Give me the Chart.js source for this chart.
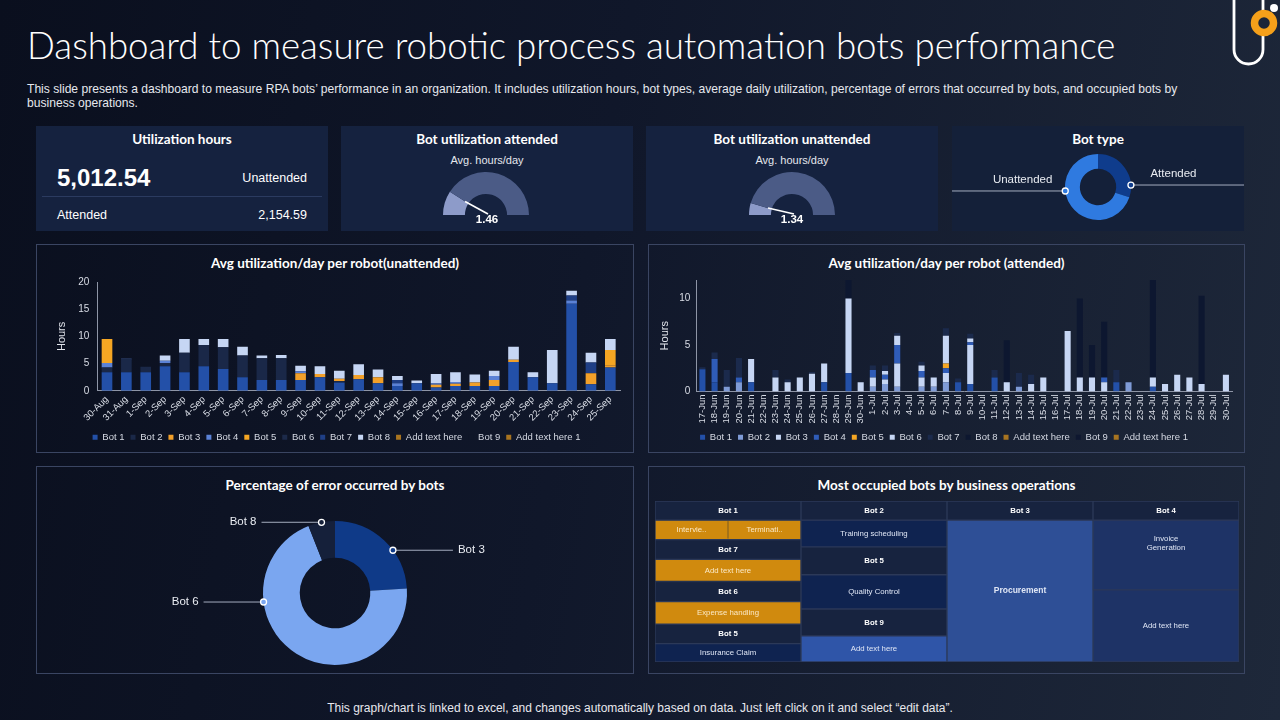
<!DOCTYPE html>
<html>
<head>
<meta charset="utf-8">
<title>RPA bots dashboard</title>
<script src="https://cdn.jsdelivr.net/npm/chart.js@4.4.1/dist/chart.umd.min.js"></script>
<style>
  body {
    margin: 0; width: 1280px; height: 720px; overflow: hidden; position: relative;
    background: linear-gradient(100deg, #0a0f1e 0%, #10172a 45%, #1e283a 100%);
    font-family: 'Liberation Sans', Arial, sans-serif; color: #fff;
  }
  .abs { position: absolute; }
  h1 {
    position: absolute; left: 27px; top: 23px; margin: 0;
    font: 300 36.7px Lato, sans-serif; color: #fff; white-space: nowrap;
  }
  .sub { left: 27px; top: 82px; width: 1160px; font-size: 12.1px; line-height: 14px; color: #e6e8ee; }
  .card { position: absolute; top: 126px; height: 105px; width: 292px; background: #15223f; }
  .ctitle, .ptitle {
    position: absolute; left: 0; right: 0; text-align: center;
    font: 700 13.5px Lato, sans-serif; line-height: 17px; white-space: nowrap;
  }
  .ctitle { top: 5px; }
  .ptitle { top: 10px; }
  .small { position: absolute; left: 0; right: 0; text-align: center; font-size: 11px; color: #e4e7ee; top: 27px; line-height: 14px; }
  .panel { position: absolute; border: 1px solid #3a4562; box-sizing: border-box; }
  canvas { position: absolute; }
  .gval { position: absolute; width: 60px; text-align: center; font-weight: 700; font-size: 11.5px; line-height: 14px; top: 212px; }
  .footer { left: 0; width: 1280px; top: 701px; text-align: center; font-size: 12px; color: #e8e8ee; }
</style>
</head>
<body>
<h1>Dashboard to measure robotic process automation bots performance</h1>
<div class="abs sub">This slide presents a dashboard to measure RPA bots’ performance in an organization. It includes utilization hours, bot types, average daily utilization, percentage of errors that occurred by bots, and occupied bots by business operations.</div>

<svg class="abs" style="left:1228px; top:0" width="52" height="68" viewBox="0 0 52 68">
  <path d="M6 0 V49.5 A14.5 14.5 0 0 0 35 49.5 V0" fill="none" stroke="#fff" stroke-width="2.8"/>
  <circle cx="36" cy="23" r="9.5" fill="#1b2538" stroke="#f5a01a" stroke-width="7.5"/>
  <circle cx="46" cy="8" r="4" fill="#fff"/>
</svg>

<div class="card" style="left:36px">
  <div class="ctitle">Utilization hours</div>
  <div class="abs" id="uTotal" style="left:21px; top:38px; font-weight:700; font-size:24px; line-height:28px"></div>
  <div class="abs" style="right:21px; top:44px; font-size:12.5px; line-height:16px">Unattended</div>
  <div class="abs" style="left:6px; right:6px; top:70px; height:1px; background:#2b3b60"></div>
  <div class="abs" style="left:21px; top:81px; font-size:12.5px; line-height:16px">Attended</div>
  <div class="abs" id="aTotal" style="right:21px; top:81px; font-size:12.5px; line-height:16px"></div>
</div>
<div class="card" style="left:341px">
  <div class="ctitle">Bot utilization attended</div>
  <div class="small">Avg. hours/day</div>
</div>
<div class="card" style="left:646px">
  <div class="ctitle">Bot utilization unattended</div>
  <div class="small">Avg. hours/day</div>
</div>
<div class="card" style="left:952px; background:#142039">
  <div class="ctitle">Bot type</div>
</div>
<canvas id="gaugeA" style="left:441px; top:170px" width="90" height="46"></canvas>
<div class="gval" id="gA" style="left:457px"></div>
<canvas id="gaugeU" style="left:747px; top:170px" width="90" height="46"></canvas>
<div class="gval" id="gU" style="left:762px"></div>
<canvas id="botType" style="left:952px; top:148px" width="292" height="78"></canvas>

<div class="panel" style="left:36px; top:244px; width:598px; height:209px">
  <div class="ptitle">Avg utilization/day per robot(unattended)</div>
</div>
<div class="panel" style="left:648px; top:244px; width:597px; height:209px">
  <div class="ptitle">Avg utilization/day per robot (attended)</div>
</div>
<div class="panel" style="left:36px; top:466px; width:598px; height:208px">
  <div class="ptitle">Percentage of error occurred by bots</div>
</div>
<div class="panel" style="left:648px; top:466px; width:597px; height:208px">
  <div class="ptitle">Most occupied bots by business operations</div>
</div>
<canvas id="unattended" style="left:40px; top:268px" width="590" height="184"></canvas>
<canvas id="attended" style="left:652px; top:268px" width="590" height="184"></canvas>
<canvas id="errors" style="left:37px; top:507px" width="596" height="172"></canvas>
<canvas id="tree" style="left:655px; top:501px" width="584" height="161"></canvas>

<div class="abs footer">This graph/chart is linked to excel, and changes automatically based on data. Just left click on it and select “edit data”.</div>

<script>
// ---- data ----
const hoursUnattended = 5012.54;
const hoursAttended = 2154.59;

const gaugeAttended = 1.46;
const gaugeAttendedMax = 8;
const gaugeUnattended = 1.34;
const gaugeUnattendedMax = 15;

const botTypeLabels = ['Attended', 'Unattended'];
const botTypeValues = [hoursAttended, hoursUnattended];

const seriesNames = ['Bot 1', 'Bot 2', 'Bot 3', 'Bot 4', 'Bot 5', 'Bot 6', 'Bot 7', 'Bot 8', 'Add text here', 'Bot 9', 'Add text here 1'];

const unattendedDays = ['30-Aug', '31-Aug', '1-Sep', '2-Sep', '3-Sep', '4-Sep', '5-Sep', '6-Sep', '7-Sep', '8-Sep',
  '9-Sep', '10-Sep', '11-Sep', '12-Sep', '13-Sep', '14-Sep', '15-Sep', '16-Sep', '17-Sep', '18-Sep',
  '19-Sep', '20-Sep', '21-Sep', '22-Sep', '23-Sep', '24-Sep', '25-Sep'];
const uBot1 = [3.4, 3.4, 3.4, 4.5, 3.4, 4.5, 4.0, 2.5, 2.0, 2.0, 2.0, 2.5, 1.5, 2.1, 1.4, 0.9, 1.4, 0.6, 0.9, 0.9, 0.9, 5.3, 2.5, 1.4, 16.0, 1.2, 4.3];
const uBot2 = [0.9, 2.4, 1.0, 0.6, 3.6, 3.9, 4.0, 4.0, 4.0, 4.0, 0, 0, 0.3, 0, 0, 0, 0, 0, 0, 0, 0, 0, 0, 0, 0, 0, 0];
const uBot3 = [0, 0, 0, 0, 0, 0, 0, 0, 0, 0, 1.2, 0.6, 0.4, 0.8, 1.1, 0, 0, 0.5, 0.4, 0.6, 1.1, 0.4, 0, 0, 0, 2.0, 0.4];
const uBot4 = [0.8, 0.1, 0, 0.4, 0, 0, 0, 0, 0, 0, 0.4, 0, 0, 0, 0, 0.5, 0, 0.3, 0.3, 0, 0.7, 0, 0, 0, 0.6, 0, 0];
const uBot5 = [4.4, 0, 0, 0, 0, 0, 0, 0, 0, 0, 0, 0, 0, 0, 0, 0, 0, 0, 0, 0, 0, 0, 0, 0, 0, 0, 2.8];
const uBot6 = [0, 0, 0, 0, 0, 0, 0, 0, 0, 0, 0, 0, 0, 0, 0, 0, 0, 0, 0, 0, 0, 0, 0, 0, 0, 0, 0];
const uBot7 = [0, 0, 0, 0, 0, 0, 0, 0, 0, 0, 0, 0, 0, 0, 0, 0.6, 0, 0, 0, 0, 0, 0, 0, 0, 0.9, 2.0, 0];
const uBot8 = [0, 0, 0, 1.0, 2.5, 1.1, 1.5, 1.6, 0.5, 0.6, 1.0, 1.4, 1.5, 2.0, 1.4, 0.7, 0.5, 1.7, 1.8, 1.5, 1.0, 2.4, 0.9, 6.1, 0.9, 1.8, 2.0];
const uText = [0, 0, 0, 0, 0, 0, 0, 0, 0, 0, 0, 0, 0, 0, 0, 0, 0, 0, 0, 0, 0, 0, 0, 0, 0, 0, 0];
const uBot9 = [0, 0, 0, 0, 0, 0, 0, 0, 0, 0, 0, 0, 0, 0, 0, 0, 0, 0, 0, 0, 0, 0, 0, 0, 0, 0, 0];
const uText1 = [0, 0, 0, 0, 0, 0, 0, 0, 0, 0, 0, 0, 0, 0, 0, 0, 0, 0, 0, 0, 0, 0, 0, 0, 0, 0, 0];

const attendedDays = ['17-Jun', '18-Jun', '19-Jun', '20-Jun', '21-Jun', '22-Jun', '23-Jun', '24-Jun', '25-Jun', '26-Jun',
  '27-Jun', '28-Jun', '29-Jun', '30-Jun', '1-Jul', '2-Jul', '3-Jul', '4-Jul', '5-Jul', '6-Jul', '7-Jul', '8-Jul',
  '9-Jul', '10-Jul', '11-Jul', '12-Jul', '13-Jul', '14-Jul', '15-Jul', '16-Jul', '17-Jul', '18-Jul', '19-Jul',
  '20-Jul', '21-Jul', '22-Jul', '23-Jul', '24-Jul', '25-Jul', '26-Jul', '27-Jul', '28-Jul', '29-Jul', '30-Jul'];
const aBot1 = [2.4, 1.0, 0, 0, 1.0, 0, 0, 0, 0, 0, 1.0, 0, 2.0, 0,
  0, 0, 0, 0, 0, 0, 0, 1.0, 0.8, 0, 1.5, 0, 0, 0, 0, 0, 0, 0, 0, 0, 1.0, 0, 0, 0.5, 0, 0, 0, 0, 0, 0];
const aBot2 = [0, 0, 0.5, 1.0, 0, 0, 0, 0, 0, 0, 0, 0, 0, 0,
  0.5, 0.8, 0.5, 0, 0.5, 0.5, 1.0, 0, 0, 0, 0, 0, 0.5, 0, 0, 0, 0, 0, 0, 0, 0, 1.0, 0, 0, 0, 0, 0, 0, 0, 0];
const aBot3 = [0, 0, 0, 0, 2.5, 0, 1.5, 1.0, 1.5, 1.9, 2.0, 0, 8.0, 1.0,
  1.0, 0.5, 2.5, 0, 1.0, 1.0, 1.0, 0, 4.2, 0, 0, 1.0, 0, 0.8, 1.5, 0, 6.5, 1.5, 1.5, 1.0, 0, 0, 0, 1.0, 0.8, 1.8, 1.5, 0.8, 0, 1.8];
const aBot4 = [0, 2.5, 0, 0.5, 0, 0, 0, 0, 0, 0, 0, 0, 0, 0,
  0.8, 0.5, 2.0, 0, 0.7, 0, 0.5, 0, 0.3, 0, 0, 0, 0, 0, 0, 0, 0, 0, 0, 0.5, 0, 0, 0, 0, 0, 0, 0, 0, 0, 0];
const aBot5 = [0, 0, 0, 0, 0, 0, 0, 0, 0, 0, 0, 0, 0, 0,
  0, 0, 0, 0, 0, 0, 0.5, 0, 0, 0, 0, 0, 0, 0, 0, 0, 0, 0, 0, 0, 0, 0, 0, 0, 0, 0, 0, 0, 0, 0];
const aBot6 = [0, 0, 0, 0, 0, 0, 0, 0, 0, 0, 0, 0, 0, 0,
  0, 0.4, 1.0, 0, 0.6, 0, 3.0, 0, 0.4, 0, 0, 0, 0, 0, 0, 0, 0, 0, 0, 0, 0, 0, 0, 0, 0, 0, 0, 0, 0, 0];
const aBot7 = [0.2, 0.7, 1.8, 2.1, 0, 0, 0.8, 0.3, 0, 0.2, 0, 0, 0, 0,
  0.5, 0.6, 0.3, 0, 0.4, 0, 0.8, 0.4, 0.5, 0, 0.8, 0, 1.5, 1.0, 0, 0, 0, 0, 0, 0, 1.3, 0, 0, 0, 0, 0, 0, 0, 0, 0];
const aBot8 = [0, 0, 0, 0, 0, 0, 0, 0, 0, 0, 0, 0, 2.0, 0,
  0, 0, 0, 0, 0, 0, 0, 0, 0, 0, 0, 4.5, 0, 0, 0, 0, 0, 8.5, 3.5, 6.0, 0, 0, 0, 10.5, 0, 0, 0, 9.5, 0, 0];
const aText = [0, 0, 0, 0, 0, 0, 0, 0, 0, 0, 0, 0, 0, 0,
  0, 0, 0, 0, 0, 0, 0, 0, 0, 0, 0, 0, 0, 0, 0, 0, 0, 0, 0, 0, 0, 0, 0, 0, 0, 0, 0, 0, 0, 0];
const aBot9 = [0, 0, 0, 0, 0, 0, 0, 0, 0, 0, 0, 0, 0, 0,
  0, 0, 0, 0, 0, 0, 0, 0, 0, 0, 0, 0, 0, 0, 0, 0, 0, 0, 0, 0, 0, 0, 0, 0, 0, 0, 0, 0, 0, 0];
const aText1 = [0, 0, 0, 0, 0, 0, 0, 0, 0, 0, 0, 0, 0, 0,
  0, 0, 0, 0, 0, 0, 0, 0, 0, 0, 0, 0, 0, 0, 0, 0, 0, 0, 0, 0, 0, 0, 0, 0, 0, 0, 0, 0, 0, 0];

const errorLabels = ['Bot 3', 'Bot 6', 'Bot 8'];
const errorValues = [24, 70, 6];

// treemap: each column top to bottom, first cell is the column header
const treeColumns = ['Bot 1', 'Bot 2', 'Bot 3', 'Bot 4'];
const treeLabels = [
  ['Bot 1', 'Intervie..|Terminati..', 'Bot 7', 'Add text here', 'Bot 6', 'Expense handling', 'Bot 5', 'Insurance Claim'],
  ['Bot 2', 'Training scheduling', 'Bot 5', 'Quality Control', 'Bot 9', 'Add text here'],
  ['Bot 3', 'Procurement'],
  ['Bot 4', 'Invoice\nGeneration', 'Add text here']
];
const treeValues = [
  [57, 58, 59, 66, 60, 67, 58, 55],
  [57, 80, 83, 102, 80, 78],
  [57, 423],
  [57, 208, 215]
];

// ---- styles ----
Chart.defaults.font.family = "'Liberation Sans', Arial, sans-serif";
Chart.defaults.color = '#d9dde6';
Chart.defaults.animation = false;

const uColors = ['#2350a8', '#1a2848', '#f2a02a', '#5b82d6', '#f5a623', '#1c2a4a', '#1f3f86', '#c6d6f4', '#a87420', '#0f1628', '#a87420'];
const aColors = ['#2350a8', '#7f9bd6', '#c6d6f4', '#2f5cb8', '#f5a623', '#c6d6f4', '#1b2a4c', '#0d1730', '#a87420', '#0e1730', '#a87420'];

document.getElementById('uTotal').textContent = hoursUnattended.toLocaleString('en-US', { minimumFractionDigits: 2 });
document.getElementById('aTotal').textContent = hoursAttended.toLocaleString('en-US', { minimumFractionDigits: 2 });
document.getElementById('gA').textContent = gaugeAttended.toFixed(2);
document.getElementById('gU').textContent = gaugeUnattended.toFixed(2);

// ---- gauges ----
const needlePlugin = {
  id: 'needle',
  afterDatasetsDraw(chart) {
    const arc = chart.getDatasetMeta(0).data[0];
    const { x, y, endAngle, outerRadius } = arc.getProps(['x', 'y', 'endAngle', 'outerRadius'], true);
    const ctx = chart.ctx;
    const r = outerRadius * 0.58;
    ctx.save();
    ctx.strokeStyle = '#ffffff';
    ctx.lineWidth = 1.6;
    ctx.beginPath();
    ctx.moveTo(x + Math.cos(endAngle) * r, y + Math.sin(endAngle) * r);
    ctx.lineTo(x + 2, y - 1);
    ctx.stroke();
    ctx.restore();
  }
};

function gauge(id, value, max) {
  new Chart(document.getElementById(id), {
    type: 'doughnut',
    data: {
      datasets: [{
        data: [value, max - value],
        backgroundColor: ['#8d9bc9', '#4b5b86'],
        borderWidth: 0
      }]
    },
    options: {
      responsive: false,
      rotation: -90,
      circumference: 180,
      cutout: '49%',
      layout: { padding: { left: 2, right: 2, top: 2, bottom: 1 } },
      plugins: { legend: { display: false }, tooltip: { enabled: false } }
    },
    plugins: [needlePlugin]
  });
}
gauge('gaugeA', gaugeAttended, gaugeAttendedMax);
gauge('gaugeU', gaugeUnattended, gaugeUnattendedMax);

// ---- leader labels for doughnuts ----
const leaderPlugin = {
  id: 'leaders',
  afterDatasetsDraw(chart, args, opts) {
    const meta = chart.getDatasetMeta(0);
    const ctx = chart.ctx;
    const labels = chart.data.labels;
    ctx.save();
    opts.items.forEach(it => {
      const arc = meta.data[it.index];
      const p = arc.getProps(['x', 'y', 'startAngle', 'endAngle', 'outerRadius'], true);
      const a = p.startAngle + (p.endAngle - p.startAngle) * it.at;
      const mx = p.x + Math.cos(a) * p.outerRadius;
      const my = p.y + Math.sin(a) * p.outerRadius;
      const dir = Math.cos(a) >= 0 ? 1 : -1;
      let ex;
      if (opts.toEdge) ex = dir > 0 ? chart.width : 0;
      else ex = mx + dir * opts.length;
      ctx.strokeStyle = '#a5adbf';
      ctx.lineWidth = 1;
      ctx.beginPath();
      ctx.moveTo(mx, my);
      ctx.lineTo(ex, my);
      ctx.stroke();
      ctx.fillStyle = '#e8ebf1';
      ctx.font = '11.5px "Liberation Sans", Arial, sans-serif';
      if (opts.toEdge) {
        ctx.textAlign = 'center';
        ctx.textBaseline = 'bottom';
        ctx.fillText(labels[it.index], (mx + ex) / 2 - dir * 14, my - 5);
      } else {
        ctx.textAlign = dir > 0 ? 'left' : 'right';
        ctx.textBaseline = 'middle';
        ctx.fillText(labels[it.index], ex + dir * 5, my);
      }
      ctx.beginPath();
      ctx.arc(mx, my, 3, 0, Math.PI * 2);
      ctx.fillStyle = chart.data.datasets[0].backgroundColor[it.index];
      ctx.fill();
      ctx.strokeStyle = '#ffffff';
      ctx.lineWidth = 1.3;
      ctx.stroke();
    });
    ctx.restore();
  }
};

new Chart(document.getElementById('botType'), {
  type: 'doughnut',
  data: {
    labels: botTypeLabels,
    datasets: [{ data: botTypeValues, backgroundColor: ['#0f3c8c', '#2f7ae0'], borderWidth: 0 }]
  },
  options: {
    responsive: false,
    cutout: '55%',
    layout: { padding: { top: 6, bottom: 6 } },
    plugins: {
      legend: { display: false }, tooltip: { enabled: false },
      leaders: { toEdge: true, items: [{ index: 0, at: 0.8 }, { index: 1, at: 0.615 }] }
    }
  },
  plugins: [leaderPlugin]
});

new Chart(document.getElementById('errors'), {
  type: 'doughnut',
  data: {
    labels: errorLabels,
    datasets: [{ data: errorValues, backgroundColor: ['#0f3a88', '#7aa6f0', '#15203a'], borderWidth: 0 }]
  },
  options: {
    responsive: false,
    cutout: '49%',
    layout: { padding: { top: 14, bottom: 14 } },
    plugins: {
      legend: { display: false }, tooltip: { enabled: false },
      leaders: { length: 60, items: [{ index: 0, at: 0.62 }, { index: 1, at: 0.7 }, { index: 2, at: 0.5 }] }
    }
  },
  plugins: [leaderPlugin]
});

// ---- stacked bars ----
function barChart(id, days, series, colors, yMax, rotation, pct, padLeft, tickPad) {
  new Chart(document.getElementById(id), {
    type: 'bar',
    data: {
      labels: days,
      datasets: series.map((s, i) => ({
        label: seriesNames[i],
        data: s,
        backgroundColor: colors[i],
        borderWidth: 0,
        categoryPercentage: pct,
        barPercentage: 1
      }))
    },
    options: {
      responsive: false,
      layout: { padding: { left: padLeft, right: 10, top: 1 } },
      scales: {
        x: {
          stacked: true,
          grid: { display: false, drawTicks: false },
          border: { display: true, color: '#8e95a6' },
          ticks: { autoSkip: false, minRotation: rotation, maxRotation: rotation, font: { size: 9.5 }, color: '#d9dde6', padding: 3 }
        },
        y: {
          stacked: true,
          min: 0, max: yMax,
          grid: { display: false, drawTicks: false },
          border: { display: true, color: '#8e95a6' },
          title: { display: true, text: 'Hours', font: { size: 11 }, color: '#e0e3ea', padding: 2 },
          ticks: { stepSize: 5, font: { size: 10 }, color: '#d9dde6', padding: tickPad, callback: v => (v % 5 === 0 ? v : '') }
        }
      },
      plugins: {
        tooltip: { enabled: false },
        legend: {
          position: 'bottom',
          labels: { boxWidth: 5, boxHeight: 5, padding: 6, font: { size: 9.5 }, color: '#d5d9e3' }
        }
      }
    }
  });
}

barChart('unattended', unattendedDays,
  [uBot1, uBot2, uBot3, uBot4, uBot5, uBot6, uBot7, uBot8, uText, uBot9, uText1], uColors, 20, 45, 0.55, 13, 8);
barChart('attended', attendedDays,
  [aBot1, aBot2, aBot3, aBot4, aBot5, aBot6, aBot7, aBot8, aText, aBot9, aText1], aColors, 12, 90, 0.5, 4, 6);

// ---- treemap as stacked columns ----
const treeFill = [
  ['#17233f', '#d08a0e', '#17233f', '#d08a0e', '#17233f', '#d08a0e', '#17233f', '#0f2350'],
  ['#17233f', '#0f2350', '#17233f', '#0f2350', '#17233f', '#2f55a8'],
  ['#17233f', '#2e4f96'],
  ['#17233f', '#1e3366', '#1e3366']
];
const treeText = { header: '#ffffff', orange: '#fbe9c6', leaf: '#dfe6f5' };
const rows = Math.max(...treeValues.map(c => c.length));
const treeSets = [];
for (let r = 0; r < rows; r++) {
  treeSets.push({
    data: treeValues.map(c => c[r] || 0),
    backgroundColor: treeFill.map(c => c[r] || 'transparent'),
    borderColor: '#2c3958',
    borderWidth: 1,
    borderSkipped: false,
    categoryPercentage: 1,
    barPercentage: 1
  });
}

const treeLabelPlugin = {
  id: 'treeLabels',
  afterDatasetsDraw(chart) {
    const ctx = chart.ctx;
    ctx.save();
    ctx.textAlign = 'center';
    ctx.textBaseline = 'middle';
    chart.data.datasets.forEach((ds, r) => {
      chart.getDatasetMeta(r).data.forEach((el, c) => {
        const text = treeLabels[c][r];
        if (!text) return;
        const p = el.getProps(['x', 'y', 'base', 'width'], true);
        const cy = (p.y + p.base) / 2;
        const isHeader = /^Bot \d$/.test(text);
        const isOrange = ds.backgroundColor[c] === '#d08a0e';
        ctx.fillStyle = isHeader ? treeText.header : (isOrange ? treeText.orange : treeText.leaf);
        const bold = isHeader || text === 'Procurement';
        ctx.font = (bold ? 'bold ' : '') + (text === 'Procurement' ? 8.5 : 7.8) + 'px "Liberation Sans", Arial, sans-serif';
        if (text.includes('|')) {
          const parts = text.split('|');
          ctx.strokeStyle = '#7a5a20';
          ctx.lineWidth = 1;
          ctx.beginPath();
          ctx.moveTo(p.x, Math.min(p.y, p.base) + 1);
          ctx.lineTo(p.x, Math.max(p.y, p.base) - 1);
          ctx.stroke();
          ctx.fillText(parts[0], p.x - p.width / 4, cy);
          ctx.fillText(parts[1], p.x + p.width / 4, cy);
        } else {
          const lines = text.split('\n');
          lines.forEach((ln, k) => ctx.fillText(ln, p.x, cy + (k - (lines.length - 1) / 2) * 9 - (lines.length > 1 ? 12 : 0)));
        }
      });
    });
    ctx.restore();
  }
};

new Chart(document.getElementById('tree'), {
  type: 'bar',
  data: { labels: treeColumns, datasets: treeSets },
  options: {
    responsive: false,
    layout: { padding: 0 },
    scales: {
      x: { stacked: true, display: false },
      y: { stacked: true, display: false, reverse: true, min: 0, max: 480 }
    },
    plugins: { legend: { display: false }, tooltip: { enabled: false } }
  },
  plugins: [treeLabelPlugin]
});
</script>
</body>
</html>
